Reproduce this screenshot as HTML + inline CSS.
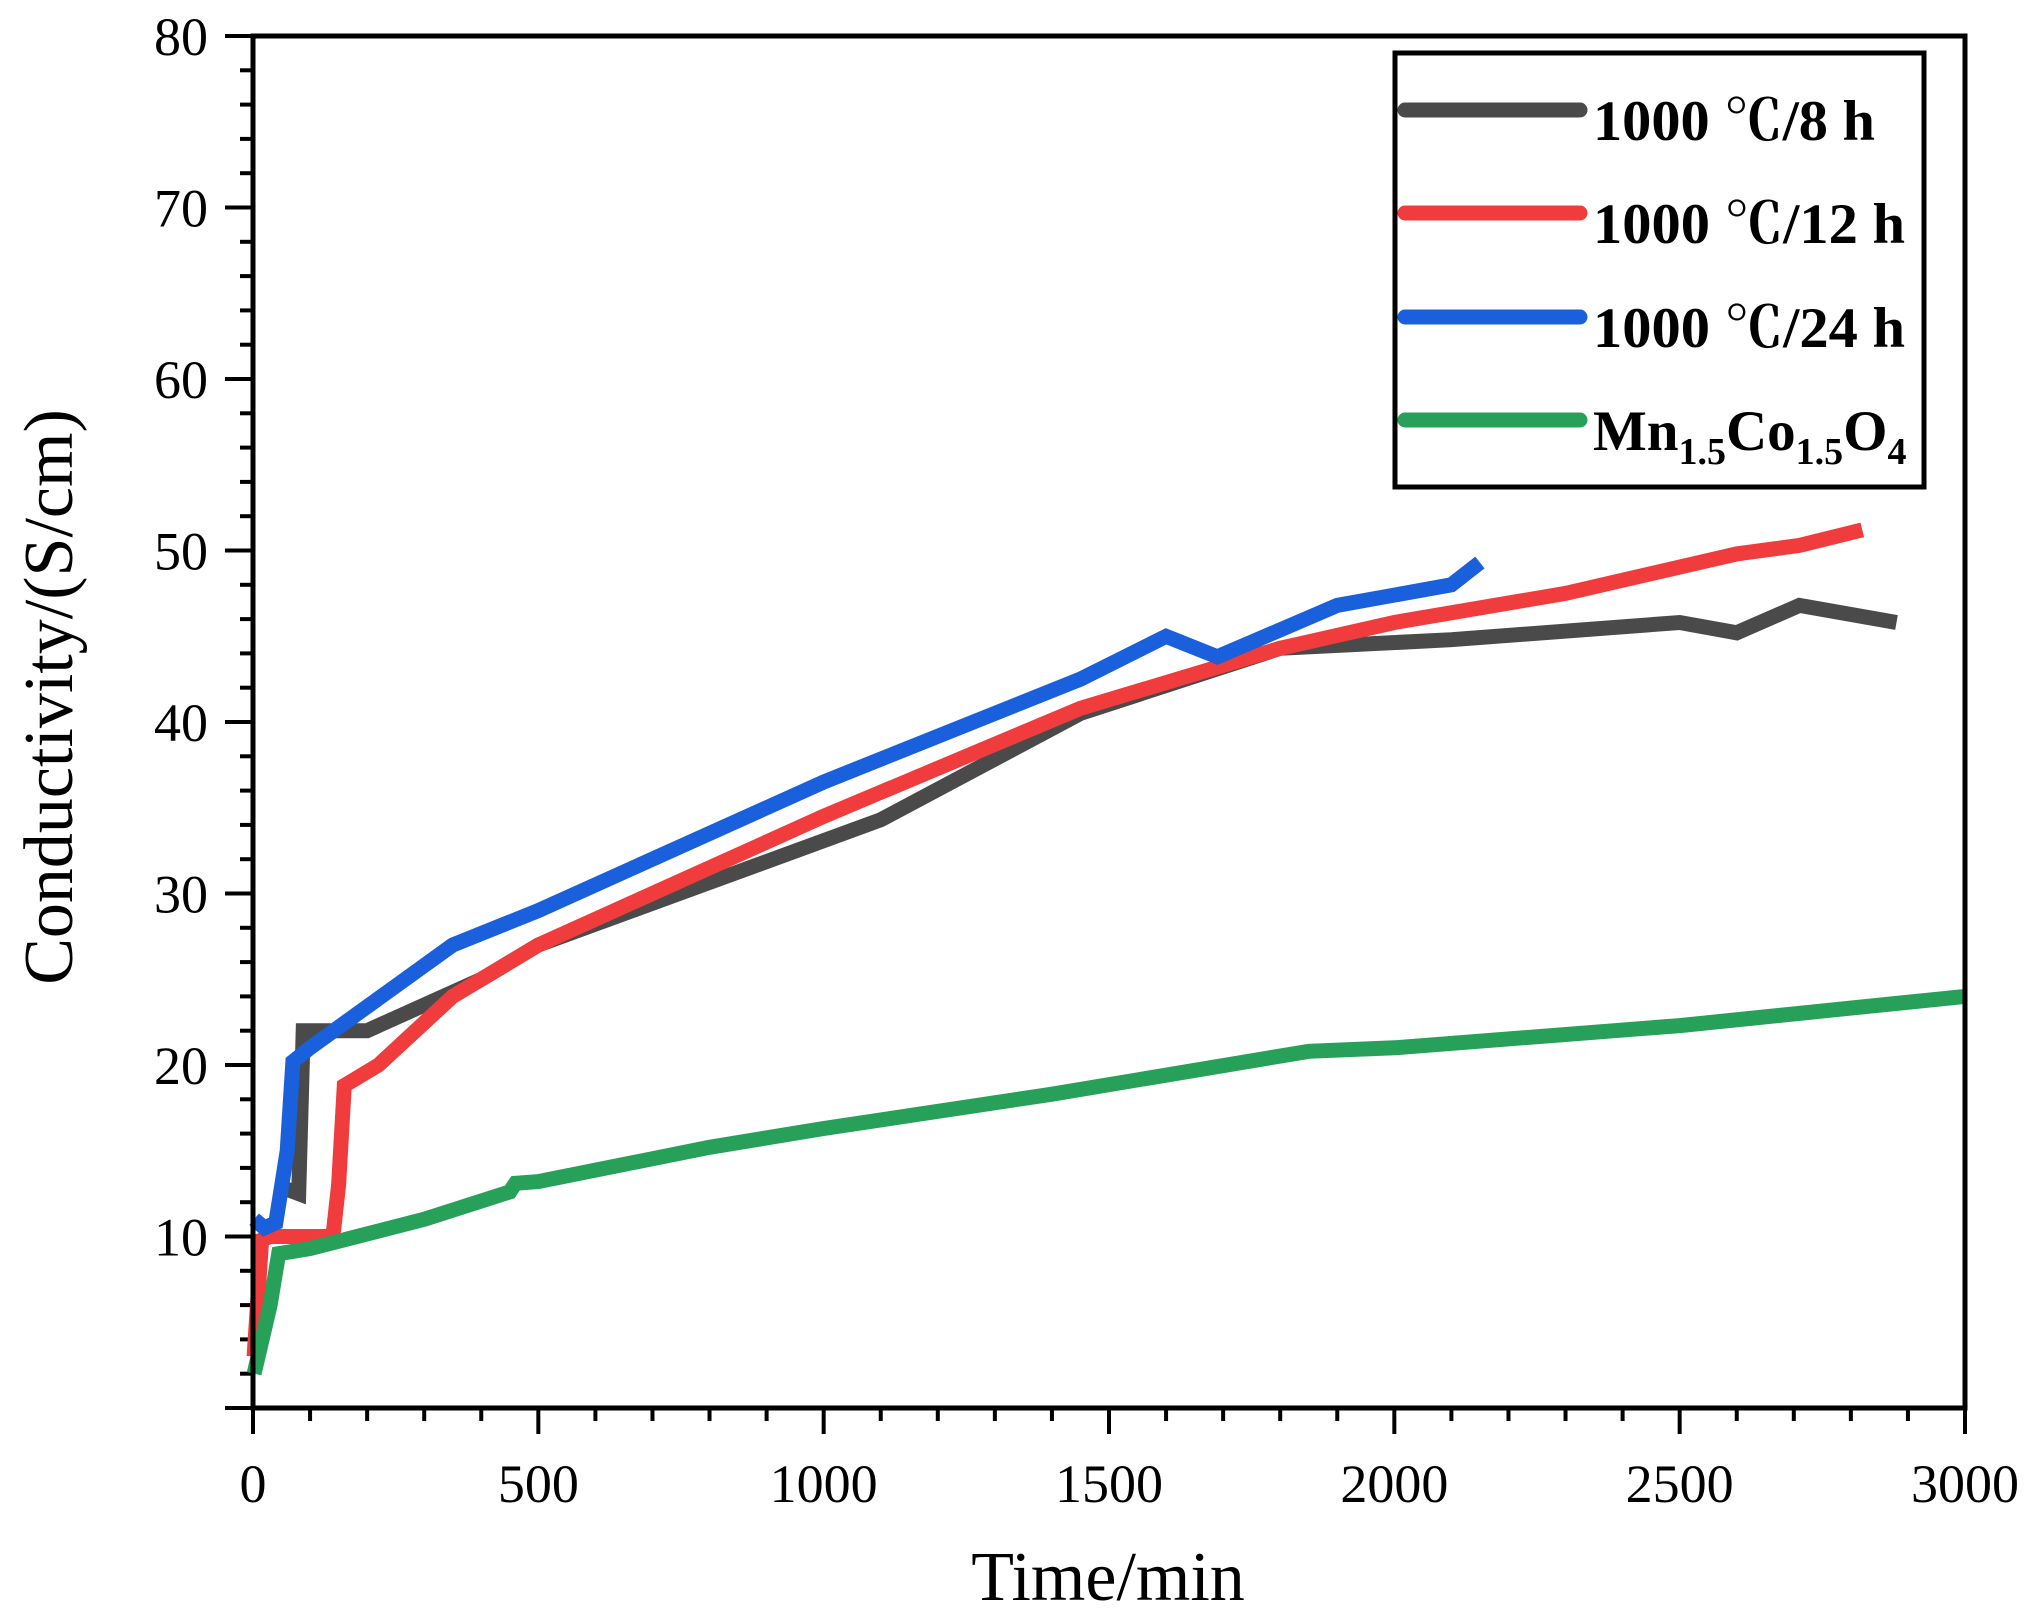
<!DOCTYPE html>
<html><head><meta charset="utf-8"><style>
html,body{margin:0;padding:0;background:#fff}
svg{display:block}
text{font-family:"Liberation Serif","Noto Serif CJK SC",serif;fill:#000}
</style></head><body>
<svg id="s" width="2027" height="1620" viewBox="0 0 2027 1620" xmlns="http://www.w3.org/2000/svg">
<rect width="2027" height="1620" fill="#fff"/>
<g id="ticks" stroke="#000" stroke-width="4"></g>
<g id="labels" font-size="54"></g>
<g id="series" fill="none" stroke-width="15" stroke-linejoin="miter" stroke-linecap="butt"></g>
<rect x="253" y="36" width="1712" height="1372" fill="none" stroke="#000" stroke-width="5"/>
<text x="1108" y="1600" font-size="70" text-anchor="middle">Time/min</text>
<text transform="translate(72,697) rotate(-90)" font-size="70" text-anchor="middle">Conductivity/(S/cm)</text>
<rect x="1395" y="53" width="529" height="434" fill="#fff" stroke="#000" stroke-width="5"/>
<g stroke-width="15" stroke-linecap="round">
<line x1="1405" y1="110" x2="1580" y2="110" stroke="#4a4a4a"/>
<line x1="1405" y1="213" x2="1580" y2="213" stroke="#f03c3c"/>
<line x1="1405" y1="317" x2="1580" y2="317" stroke="#1a5fdc"/>
<line x1="1405" y1="420" x2="1580" y2="420" stroke="#27a05a"/>
</g>
<g font-size="57" font-weight="bold">
<text x="1593" y="140" textLength="282" lengthAdjust="spacingAndGlyphs">1000 ℃/8 h</text>
<text x="1593" y="243" textLength="312" lengthAdjust="spacingAndGlyphs">1000 ℃/12 h</text>
<text x="1593" y="347" textLength="312" lengthAdjust="spacingAndGlyphs">1000 ℃/24 h</text>
<text x="1593" y="450">Mn<tspan font-size="38" dy="14">1.5</tspan><tspan dy="-14">Co</tspan><tspan font-size="38" dy="14">1.5</tspan><tspan dy="-14">O</tspan><tspan font-size="38" dy="14">4</tspan></text>
</g>
</svg>
<script>
var L=253,R=1965,T=36,B=1408;
function X(t){return L+t*(R-L)/3000}
function Y(v){return B-v*(B-T)/80}
var NS="http://www.w3.org/2000/svg";
var tk=document.getElementById('ticks'),lb=document.getElementById('labels');
function el(p,n,a,txt){var e=document.createElementNS(NS,n);for(var k in a)e.setAttribute(k,a[k]);if(txt!==undefined)e.textContent=txt;p.appendChild(e);return e}
for(var v=0;v<=80;v+=2){var y=Y(v);var maj=v%10==0;el(tk,'line',{x1:maj?225:240,y1:y,x2:253,y2:y});
 if(maj&&v>0)el(lb,'text',{x:208,y:y+19,'text-anchor':'end'},v);}
for(var t=0;t<=3000;t+=100){var x=X(t);var maj=t%500==0;el(tk,'line',{x1:x,y1:1408,x2:x,y2:maj?1434:1421});
 if(maj)el(lb,'text',{x:x,y:1502,'text-anchor':'middle'},t);}
var S=[
["#4a4a4a",[[40,13],[80,12.5],[88,22],[200,22],[400,25],[500,27],[1100,34.3],[1450,40.5],[1800,44.3],[2100,44.8],[2500,45.8],[2600,45.2],[2710,46.8],[2880,45.8]]],
["#f03c3c",[[2,3],[15,9.8],[30,10],[140,10],[150,13],[160,18.8],[220,20],[350,24],[500,27],[1000,34.5],[1450,40.8],[1800,44.3],[2000,45.8],[2300,47.5],[2600,49.8],[2710,50.3],[2820,51.2]]],
["#1a5fdc",[[2,11],[20,10.5],[40,10.8],[60,15],[70,20.2],[100,21],[350,27],[500,29],[1000,36.5],[1450,42.5],[1600,45],[1690,43.8],[1900,46.8],[2100,48],[2150,49.3]]],
["#27a05a",[[2,2],[30,6],[45,9],[100,9.3],[300,11],[450,12.6],[460,13.1],[500,13.2],[800,15.2],[1000,16.3],[1400,18.3],[1850,20.8],[2000,21],[2500,22.3],[3000,24]]]
];
var g=document.getElementById('series');
S.forEach(function(s){el(g,'polyline',{stroke:s[0],points:s[1].map(function(p){return X(p[0]).toFixed(1)+','+Y(p[1]).toFixed(1)}).join(' ')})});
</script>
</body></html>
